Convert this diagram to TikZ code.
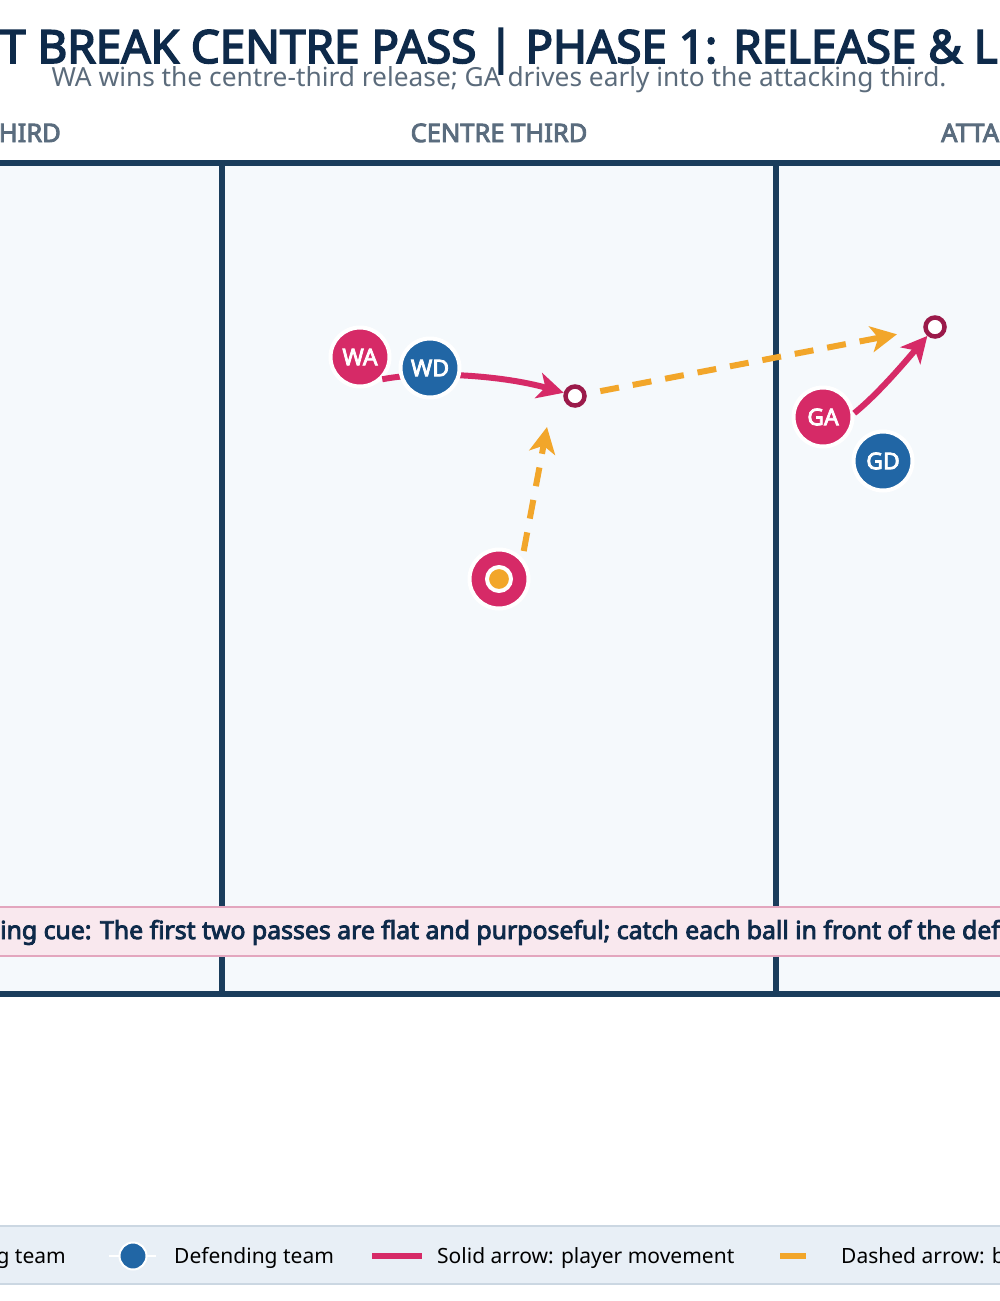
\documentclass[tikz,border=0pt]{standalone}
\usepackage{fontspec}
\setmainfont{Noto Sans}[BoldFont={Noto Sans},BoldFeatures={FakeBold=3.5}]
\usetikzlibrary{arrows.meta}
\definecolor{courtline}{HTML}{1A3D5C}
\definecolor{courtfill}{HTML}{F5F9FC}
\definecolor{titlenavy}{HTML}{0E2A4A}
\definecolor{subgrey}{HTML}{5B6B7B}
\definecolor{headgrey}{HTML}{5A6C7E}
\definecolor{attackpink}{HTML}{D62A67}
\definecolor{defendblue}{HTML}{2166A5}
\definecolor{passorange}{HTML}{F2A62A}
\definecolor{targetred}{HTML}{9B1A4A}
\definecolor{cuefill}{HTML}{F9E8EE}
\definecolor{cueline}{HTML}{E3A6BE}
\definecolor{keyfill}{HTML}{E8EFF6}
\definecolor{keyline}{HTML}{CBD7E2}

\begin{document}
\begin{tikzpicture}[x=1pt,y=-1pt,
    player/.style={circle,minimum size=59pt,inner sep=0pt,draw=white,line width=4pt,
      text=white,font=\fontsize{23}{23}\selectfont\bfseries},
    attack/.style={player,fill=attackpink},
    defend/.style={player,fill=defendblue},
    ballmark/.style={circle,minimum size=24pt,inner sep=0pt,draw=white,line width=4pt,fill=passorange},
    target/.style={circle,minimum size=19pt,inner sep=0pt,draw=targetred,line width=4.5pt,fill=white},
    move/.style={draw=attackpink,line width=6pt,-{Stealth[length=26pt,width=26pt,inset=7pt]}},
    pass/.style={draw=passorange,line width=6pt,dash pattern=on 19pt off 14pt,
      -{Stealth[length=26pt,width=26pt,inset=7pt]}},
    keytext/.style={font=\fontsize{21}{21}\selectfont,text=black,inner sep=0pt,anchor=base west}]

    \useasboundingbox (0,0) rectangle (1000,1301);
    \clip (0,0) rectangle (1000,1301);

    % titles
    \node[anchor=base west,inner sep=0pt,text=titlenavy,font=\fontsize{45.8}{45.8}\selectfont\bfseries]
        (title) at (0,63) {T BREAK CENTRE PASS | PHASE 1: RELEASE \& L};
    \node[anchor=base,inner sep=0pt,text=subgrey,font=\fontsize{26.3}{26.3}\selectfont]
        (subtitle) at (499,86) {WA wins the centre-third release; GA drives early into the attacking third.};

    % court
    \filldraw[fill=courtfill,draw=courtline,line width=6pt] (-331,163) rectangle (1328,994);
    \draw[courtline,line width=6pt] (222,163) -- (222,994);
    \draw[courtline,line width=6pt] (775.5,163) -- (775.5,994);

    % thirds
    \node[anchor=base east,inner sep=0pt,text=headgrey,font=\fontsize{25.5}{25.5}\selectfont\bfseries]
        (defthird) at (61,142) {HIRD};
    \node[anchor=base,inner sep=0pt,text=headgrey,font=\fontsize{25.5}{25.5}\selectfont\bfseries]
        (centrethird) at (499,142) {CENTRE THIRD};
    \node[anchor=base west,inner sep=0pt,text=headgrey,font=\fontsize{25.5}{25.5}\selectfont\bfseries]
        (attthird) at (941,142) {ATTA};

    % coaching cue
    \filldraw[fill=cuefill,draw=cueline,line width=2pt] (-300,907) rectangle (1300,956);
    \node[anchor=base west,inner sep=0pt,text=titlenavy,font=\fontsize{24.8}{24.8}\selectfont\bfseries]
        (cue) at (0,939) {ing cue: The first two passes are flat and purposeful; catch each ball in front of the def};

    % targets and lead point
    \node[target] (T1) at (575,396) {};
    \node[target] (T2) at (935,327) {};
    \coordinate (lead) at (547,427);

    % player movement (under the defenders)
    \node[attack] (WA) at (360,357) {WA};
    \draw[move] (WA.-45) .. controls (430,370) and (505,376) .. (T1);
    \node[attack] (GA) at (823,417) {GA};
    \draw[move] (GA.7) .. controls (878,394) and (905,362) .. (T2);

    % passes
    \node[attack] (C) at (499,579) {};
    \node[ballmark] (ball) at (C) {};
    \draw[pass,shorten <=7pt] (C.42) -- (lead);
    \draw[pass,shorten <=14pt,shorten >=27pt] (T1) -- (T2);

    % defenders
    \node[defend] (WD) at (430,368) {WD};
    \node[defend] (GD) at (883,461) {GD};

    % legend
    \filldraw[fill=keyfill,draw=keyline,line width=2pt] (-300,1226) rectangle (1300,1284);
    \node[keytext,anchor=base east] (keyatt) at (66,1263) {g team};
    \draw[white,line width=2.5pt] (109,1256) -- (156,1256);
    \node[circle,minimum size=27pt,inner sep=0pt,fill=defendblue,draw=white,line width=2pt] (keydef) at (133,1256) {};
    \node[keytext] (keydeftext) at (174,1263) {Defending team};
    \draw[attackpink,line width=6pt] (372,1256) -- (422,1256);
    \node[keytext] (keymove) at (437,1263) {Solid arrow: player movement};
    \draw[passorange,line width=6pt] (780,1256) -- (806,1256);
    \node[keytext] (keypass) at (841,1263) {Dashed arrow: b};
\end{tikzpicture}
\end{document}
